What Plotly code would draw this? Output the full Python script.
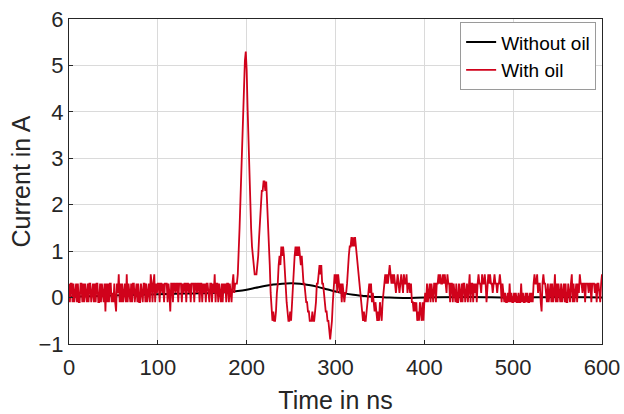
import plotly.graph_objects as go

# ---- data ----
# Red trace (with oil), sampled every 1 ns from 0 to 600 ns
with_oil = [
    # t 0-187 : baseline noise
    0.3,-0.1,0.3,0.3,-0.1,0.3,-0.1,0.1,0.3,-0.1,0.3,-0.1,-0.1,0.3,0.3,-0.1,0.3,-0.1,0.3,0.1,
    -0.1,0.3,-0.1,0.3,0.3,-0.1,0.1,0.3,-0.1,0.3,-0.1,0.3,0.3,-0.1,-0.1,0.3,-0.1,0.3,0.1,-0.1,
    0.3,-0.3,0.3,-0.1,0.3,-0.1,0.3,0.3,-0.1,0.1,-0.1,0.3,-0.1,-0.3,0.3,0.1,0.5,-0.1,0.3,-0.1,
    0.3,-0.1,0.1,0.3,-0.1,0.5,-0.1,0.3,0.1,-0.1,0.3,-0.1,0.3,0.3,-0.1,0.1,0.3,-0.1,0.3,-0.1,
    -0.1,0.3,0.1,-0.1,0.3,0.3,-0.1,0.3,-0.1,0.1,0.3,-0.1,0.5,0.3,-0.1,0.3,0.5,-0.1,0.3,0.1,
    0.3,0.3,-0.1,0.3,0.3,0.1,0.3,-0.1,0.3,0.3,0.3,-0.1,0.3,0.1,-0.3,0.3,0.3,-0.1,0.3,0.3,
    0.1,0.3,0.3,-0.1,0.3,0.3,0.3,-0.1,0.3,0.1,0.3,0.3,-0.1,0.3,0.3,0.1,0.3,-0.1,0.3,0.3,
    0.3,-0.1,0.3,0.3,0.1,0.3,0.3,-0.1,0.3,0.3,-0.1,0.3,0.1,0.3,-0.1,0.3,0.3,0.1,-0.1,0.3,
    0.3,-0.1,0.3,0.1,0.5,-0.1,0.3,0.3,-0.1,0.3,0.1,-0.1,0.3,-0.1,0.3,0.1,0.3,-0.1,0.3,0.3,
    -0.1,0.3,0.1,-0.1,0.3,0.5,0.1,0.3,
    # t 188-259 : main pulse and first oscillations
    0.3,0.3,0.5,0.9,1.5,2.1,2.7,3.5,4.1,4.7,
    5.1,5.3,4.9,4.1,3.3,2.5,1.9,1.5,1.1,0.9,
    0.7,0.5,0.5,0.5,0.7,0.9,1.3,1.7,1.9,2.3,
    2.3,2.5,2.5,2.3,2.5,2.1,1.7,1.3,0.7,0.1,
    -0.3,-0.5,-0.3,-0.5,-0.5,-0.3,0.1,0.3,0.7,0.9,
    0.7,1.1,0.9,1.1,0.9,0.5,0.3,-0.1,-0.3,-0.5,
    -0.5,-0.3,-0.5,-0.1,0.3,0.7,0.9,1.1,0.9,1.1,
    0.9,1.1,
    # t 260-372 : ringing
    0.9,0.7,0.9,0.5,0.3,0.3,0.1,-0.1,-0.1,-0.3,
    -0.3,-0.5,-0.5,-0.5,-0.3,-0.5,-0.5,-0.3,-0.1,0.3,
    0.3,0.5,0.7,0.5,0.7,0.3,0.3,0.1,-0.1,-0.3,
    -0.3,-0.5,-0.5,-0.7,-0.9,-0.7,-0.5,-0.1,0.3,0.5,
    0.3,0.5,0.1,0.5,0.3,0.1,0.3,-0.1,0.3,0.1,
    -0.1,0.1,0.1,0.3,0.7,0.9,1.1,1.1,1.3,1.1,
    1.3,1.1,1.3,1.1,0.9,0.7,0.5,0.3,0.1,-0.1,
    -0.3,-0.5,-0.3,-0.5,-0.5,-0.3,-0.1,0.1,0.3,0.1,
    0.3,-0.1,0.1,-0.1,-0.3,-0.1,-0.3,-0.5,-0.3,-0.5,
    -0.1,-0.3,-0.5,-0.1,0.1,0.3,0.5,0.3,0.5,0.3,
    0.5,0.7,0.5,0.3,0.5,0.3,0.5,0.3,0.1,0.3,
    0.5,0.3,0.1,
    # t 373-600 : tail noise
    0.3,0.5,0.3,0.1,0.5,0.3,0.3,0.5,0.1,0.3,0.3,0.1,0.3,-0.1,
    -0.1,-0.3,-0.1,-0.3,-0.1,-0.5,-0.3,-0.5,-0.1,-0.3,-0.5,-0.1,-0.5,-0.1,
    0.1,-0.1,0.3,-0.1,0.1,0.3,-0.1,0.3,0.1,-0.1,0.3,0.3,-0.1,0.3,
    0.3,0.5,0.3,0.5,0.3,0.3,0.5,0.3,0.5,0.3,0.1,0.5,0.3,0.3,-0.1,0.3,
    0.3,-0.1,0.3,0.1,-0.1,0.3,-0.1,-0.1,0.3,0.1,-0.1,0.3,-0.1,0.3,0.3,-0.1,0.1,0.3,-0.1,0.3,
    0.5,-0.1,0.3,0.3,-0.1,0.3,0.1,0.3,-0.1,
    0.3,0.5,0.3,0.3,0.1,0.5,0.3,0.3,0.5,0.3,-0.1,0.3,0.5,0.3,0.5,0.3,0.3,0.1,0.3,0.5,
    0.3,0.3,0.1,0.3,0.3,0.5,0.3,-0.1,0.3,0.1,
    -0.1,0.1,-0.1,-0.1,0.1,-0.1,0.3,-0.1,0.1,-0.1,-0.1,0.1,-0.1,0.1,-0.1,-0.1,0.1,-0.1,-0.1,0.3,
    -0.1,0.1,-0.1,-0.1,0.1,-0.1,0.1,-0.1,-0.1,0.1,-0.1,0.1,-0.1,
    0.3,0.5,0.3,0.3,0.5,0.1,0.3,0.3,-0.1,-0.3,0.3,0.5,0.3,0.3,0.1,
    -0.1,0.3,-0.1,0.1,0.3,-0.1,0.3,-0.1,0.1,0.5,-0.1,0.3,-0.1,0.3,0.1,-0.1,0.3,-0.1,0.1,0.3,
    -0.1,0.3,-0.1,-0.1,0.3,0.1,-0.1,0.3,0.5,-0.1,0.3,-0.1,0.1,0.3,-0.1,0.3,0.1,
    0.5,0.3,0.3,0.1,0.3,0.3,-0.1,0.3,0.3,0.3,0.1,0.3,0.3,-0.1,0.3,0.3,0.3,0.1,0.3,-0.1,
    0.3,0.3,0.1,-0.1,0.3,
    0.5,
]
with_oil_time = list(range(len(with_oil)))  # 1 ns sampling

without_oil_time = [0, 20, 40, 60, 80, 100, 120, 140, 160, 180, 190, 200, 210, 220, 230,
                    240, 250, 260, 270, 280, 290, 300, 310, 320, 330, 340, 350, 360, 380,
                    400, 450, 500, 550, 600]
without_oil = [0.02, 0.03, 0.04, 0.05, 0.06, 0.07, 0.08, 0.09, 0.10, 0.12, 0.14, 0.17, 0.21,
               0.25, 0.28, 0.30, 0.31, 0.30, 0.27, 0.23, 0.18, 0.13, 0.09, 0.06, 0.04, 0.02,
               0.01, 0.0, -0.01, 0.0, 0.01, 0.0, 0.01, 0.0]

x_ticks = [0, 100, 200, 300, 400, 500, 600]
y_ticks = [-1, 0, 1, 2, 3, 4, 5, 6]

FONT = "Liberation Sans, Arial, Helvetica, sans-serif"
TXT = "#262626"

fig = go.Figure()
fig.add_trace(go.Scatter(x=without_oil_time, y=without_oil, mode="lines", name="Without oil",
                         line=dict(color="#000000", width=2, shape="spline")))
fig.add_trace(go.Scatter(x=with_oil_time, y=with_oil, mode="lines", name="With oil",
                         line=dict(color="#D0021B", width=1.8)))

axis_common = dict(showgrid=True, gridcolor="#dadada", gridwidth=1, zeroline=False,
                   showline=True, linecolor="#262626", linewidth=1, mirror=True,
                   ticks="inside", ticklen=4, tickcolor="#262626", automargin=False,
                   tickfont=dict(family=FONT, size=22, color=TXT))

fig.update_xaxes(range=[0, 600], tickvals=x_ticks, ticklabelstandoff=4,
                 title=dict(text="Time in ns", font=dict(family=FONT, size=25, color=TXT), standoff=14),
                 **axis_common)
fig.update_yaxes(range=[-1, 6], tickvals=y_ticks,
                 title=dict(text="Current in A", font=dict(family=FONT, size=25, color=TXT), standoff=0),
                 **axis_common)

fig.update_layout(
    width=624, height=414,
    margin=dict(l=69, r=22, t=19, b=70, autoexpand=False),
    paper_bgcolor="white", plot_bgcolor="white",
    font=dict(family=FONT, color=TXT),
    legend=dict(x=0.989, y=0.99, xanchor="right", yanchor="top",
                bgcolor="white", bordercolor="#9a9a9a", borderwidth=1,
                font=dict(family=FONT, size=19, color="#000000"),
                tracegroupgap=0, itemwidth=30),
    showlegend=True,
)

fig.write_html("out.html", config={"displayModeBar": False},
               post_script="document.body.style.margin='0';document.body.style.overflow='hidden';")
